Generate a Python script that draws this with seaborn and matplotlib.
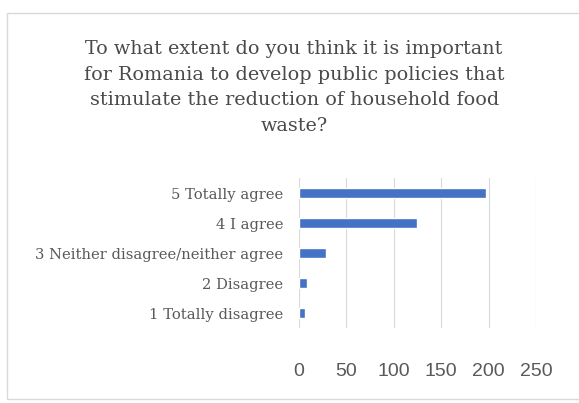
import matplotlib
matplotlib.use("Agg")
import matplotlib.pyplot as plt
import matplotlib.patches as patches
import seaborn as sns
import pandas as pd

# data
categories = ["5 Totally agree", "4 I agree", "3 Neither disagree/neither agree",
              "2 Disagree", "1 Totally disagree"]
counts = [197, 125, 29, 8, 6]
x_ticks = [0, 50, 100, 150, 200, 250]

title = ("To what extent do you think it is important\n"
         "for Romania to develop public policies that\n"
         "stimulate the reduction of household food\n"
         "waste?")

df = pd.DataFrame({"answer": categories, "count": counts})

sns.set_style("white")
text_grey = "#595959"

fig = plt.figure(figsize=(5.79, 4.03), dpi=100)
ax = fig.add_axes([0.5164, 0.186, 0.4093, 0.372])

sns.barplot(data=df, x="count", y="answer", orient="h", order=categories,
            color="#4472C4", saturation=1, width=0.34, ax=ax)

ax.set_xlim(0, 250)
ax.set_xticks(x_ticks)
ax.set_xlabel("")
ax.set_ylabel("")
ax.grid(axis="x", color="#d9d9d9", linewidth=0.8)
ax.set_axisbelow(True)
for s in ax.spines.values():
    s.set_visible(False)

ax.tick_params(axis="x", length=0, pad=25, labelsize=14, labelcolor=text_grey)
ax.tick_params(axis="y", length=0, pad=11.5, labelsize=10.6, labelcolor=text_grey)
for lbl in ax.get_xticklabels():
    lbl.set_family("Liberation Sans")
for lbl in ax.get_yticklabels():
    lbl.set_family("DejaVu Serif")

fig.text(0.508, 0.901, title, ha="center", va="top", fontsize=13.8,
         family="DejaVu Serif", color="#4a4a4a", linespacing=1.55)

# light chart-area frame like the spreadsheet export
fig.patches.append(patches.Rectangle((0.012, 0.01), 1.2, 0.958, transform=fig.transFigure,
                                     fill=False, edgecolor="#d9d9d9", linewidth=1))

fig.savefig("out.png", dpi=100)
